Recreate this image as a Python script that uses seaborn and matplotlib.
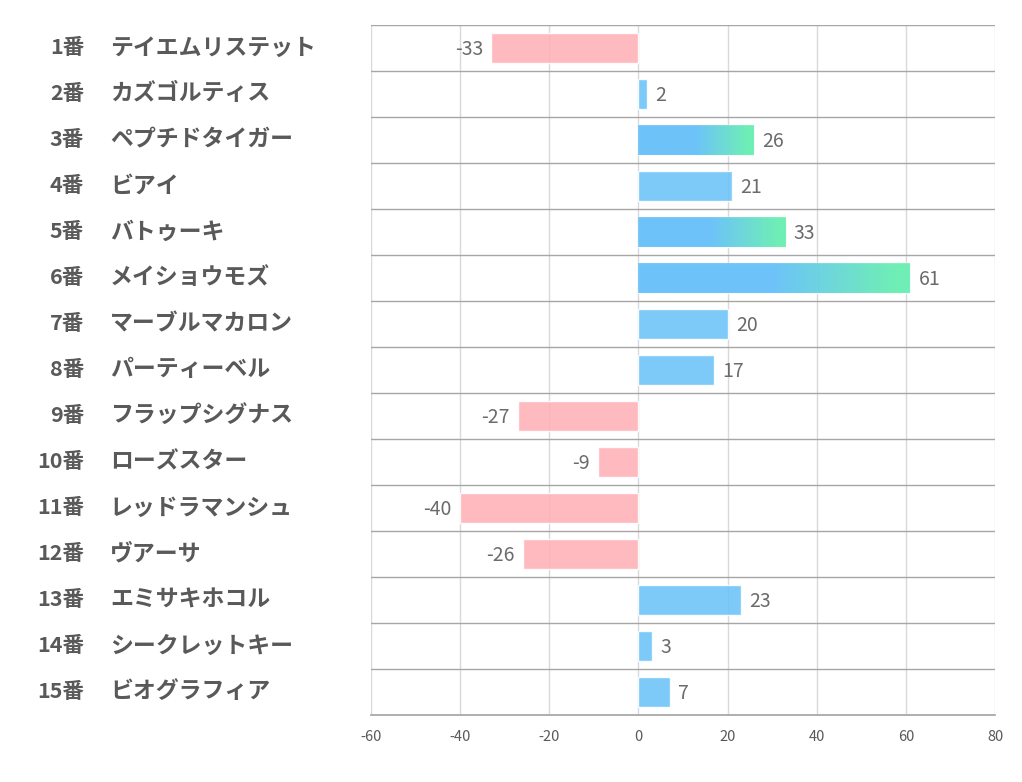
import numpy as np
import pandas as pd
import seaborn as sns
import matplotlib
matplotlib.use("Agg")
import matplotlib.pyplot as plt
from matplotlib.transforms import blended_transform_factory
from matplotlib.colors import to_rgb

numbers = ["1番", "2番", "3番", "4番", "5番", "6番", "7番", "8番", "9番", "10番",
           "11番", "12番", "13番", "14番", "15番"]
names = ["テイエムリステット", "カズゴルティス", "ペプチドタイガー", "ビアイ", "バトゥーキ",
         "メイショウモズ", "マーブルマカロン", "パーティーベル", "フラップシグナス", "ローズスター",
         "レッドラマンシュ", "ヴアーサ", "エミサキホコル", "シークレットキー", "ビオグラフィア"]
values = [-33, 2, 26, 21, 33, 61, 20, 17, -27, -9, -40, -26, 23, 3, 7]
x_ticks = [-60, -40, -20, 0, 20, 40, 60, 80]

sns.set_theme(style="white")
plt.rcParams["font.family"] = ["Noto Sans CJK JP", "DejaVu Sans"]

BLUE = "#6BC3F9"
GREEN = "#6EF4AC"
PINK = "#FFB1B7"
TXT = "#595959"

df = pd.DataFrame({"key": [f"{n} {m}" for n, m in zip(numbers, names)],
                   "value": values})
df["sign"] = np.where(df["value"] >= 0, "pos", "neg")

fig = plt.figure(figsize=(10.22, 7.82), dpi=100)
ax = fig.add_axes([371 / 1022, 1 - 715 / 782, (995 - 371) / 1022, (715 - 25) / 782])

bar_h = 0.65
sns.barplot(data=df, x="value", y="key", hue="sign", orient="h",
            palette={"pos": BLUE, "neg": PINK}, dodge=False, width=bar_h,
            saturation=1, alpha=0.88, legend=False, ax=ax, zorder=2)

# gradient overlay for the three largest values
top3 = sorted(values, reverse=True)[:3]
c1 = np.array(to_rgb(BLUE))
c2 = np.array(to_rgb(GREEN))
t = np.linspace(0, 1, 256)
w = np.clip((t - 0.5) / 0.45, 0, 1)[:, None]
grad = (c1[None, :] * (1 - w) + c2[None, :] * w)[None, :, :]
for i, v in enumerate(values):
    if v in top3:
        ax.imshow(grad, extent=(0, v, i + bar_h / 2, i - bar_h / 2), aspect="auto",
                  alpha=0.88, zorder=3, interpolation="bilinear")

ax.set_xlim(x_ticks[0], x_ticks[-1])
ax.set_ylim(len(values) - 0.5, -0.5)
ax.set_xticks(x_ticks)
ax.set_xticklabels([str(v) for v in x_ticks])
ax.tick_params(axis="x", length=0, pad=11, labelsize=10.5, labelcolor=TXT)
ax.set_yticks(np.arange(-0.5, len(values), 1.0), minor=True)
ax.set_yticks([])
ax.grid(axis="x", which="major", color="#D9D9D9", lw=1, zorder=0)
ax.grid(axis="y", which="minor", color="#A6A6A6", lw=1, zorder=0)
ax.tick_params(axis="y", which="both", length=0)
for s in ["top", "left", "right"]:
    ax.spines[s].set_visible(False)
ax.spines["bottom"].set_color("#A6A6A6")
ax.set_xlabel("")
ax.set_ylabel("")
ax.set_axisbelow(True)

# value labels
for i, v in enumerate(values):
    if v >= 0:
        ax.annotate(str(v), (v, i), xytext=(6, -1), textcoords="offset points",
                    ha="left", va="center", fontsize=14, color="#6b6b6b", zorder=5)
    else:
        ax.annotate(str(v), (v, i), xytext=(-6, -1), textcoords="offset points",
                    ha="right", va="center", fontsize=14, color="#6b6b6b", zorder=5)

# category labels
tr = blended_transform_factory(fig.transFigure, ax.transData)
for i, (n, m) in enumerate(zip(numbers, names)):
    ax.text(84 / 1022, i, n, transform=tr, ha="right", va="center",
            fontsize=15.5, fontweight="bold", color=TXT, clip_on=False)
    ax.text(110 / 1022, i, m, transform=tr, ha="left", va="center",
            fontsize=16.5, fontweight="bold", color=TXT, clip_on=False)

fig.savefig("out.png", dpi=100)
